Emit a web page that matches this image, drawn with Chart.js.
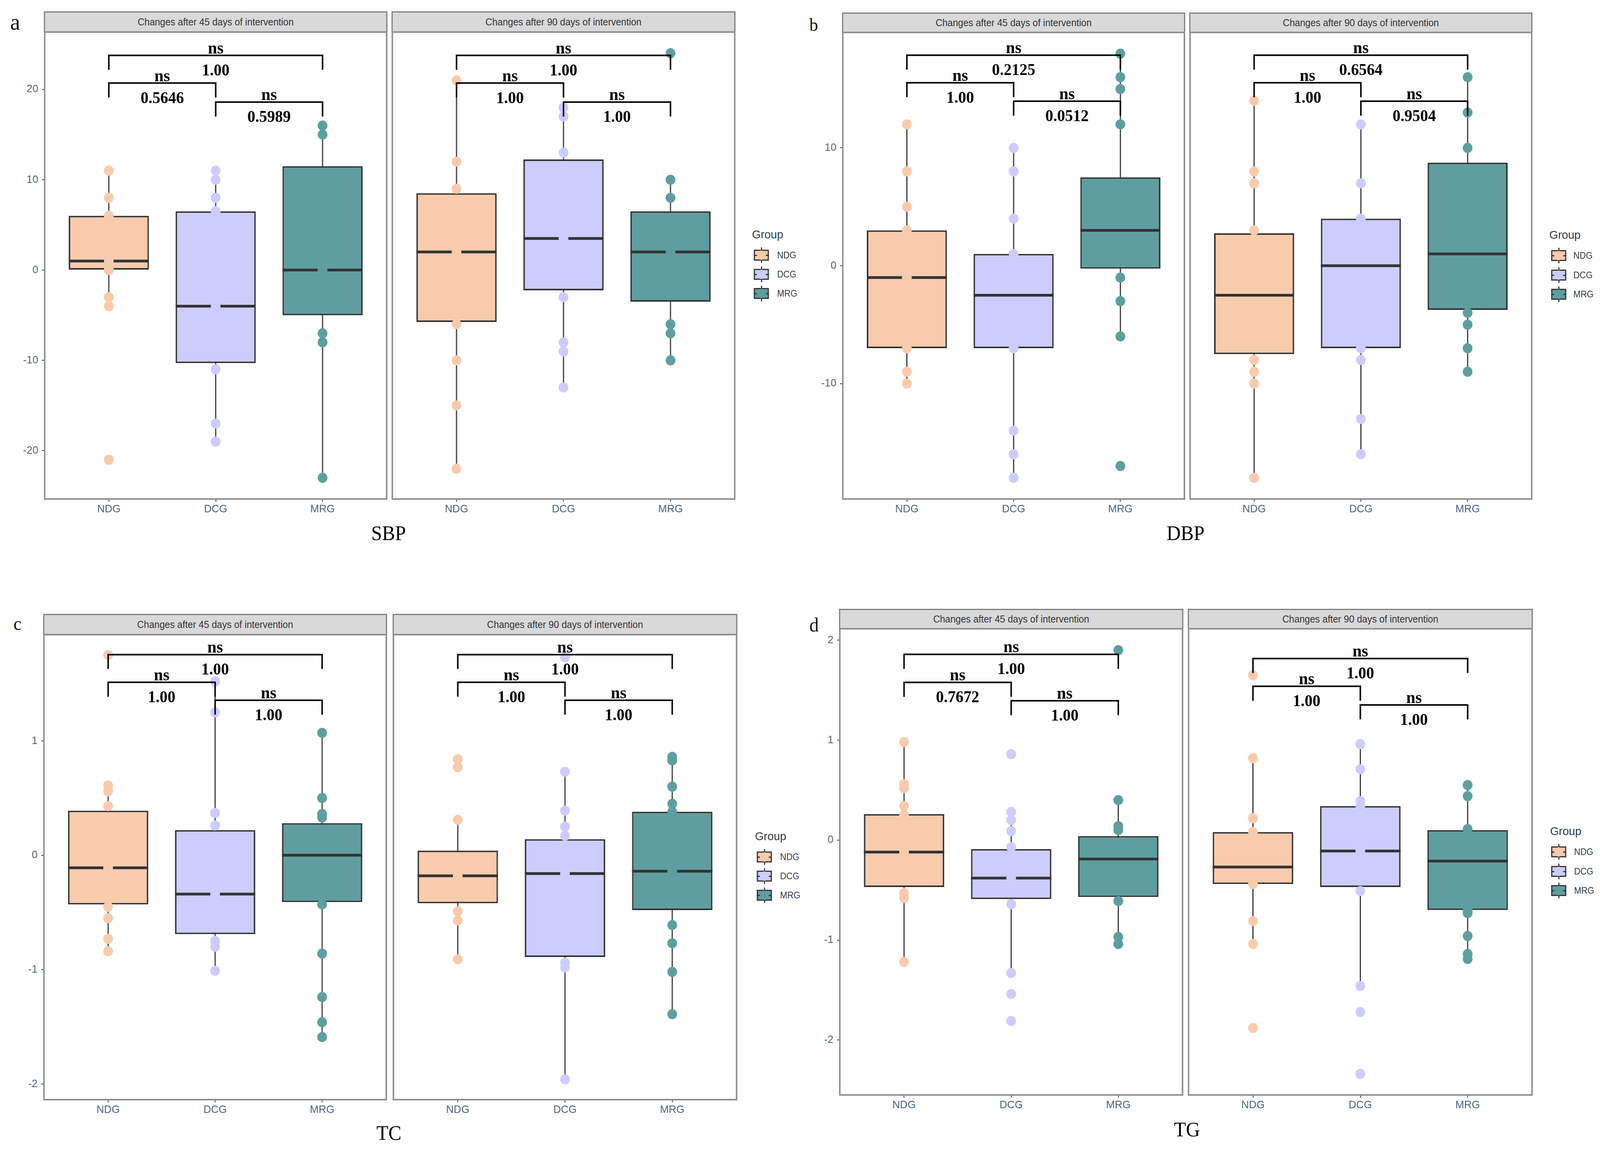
<!DOCTYPE html>
<html><head><meta charset="utf-8">
<script src="https://cdn.jsdelivr.net/npm/chart.js@4.4.1/dist/chart.umd.min.js"></script>
<style>
html,body{margin:0;padding:0;background:#fff;overflow:hidden;}
#root{position:absolute;left:0;top:0;width:4262px;height:2948px;overflow:hidden;background:#fff;transform-origin:0 0;}
.strip{position:absolute;box-sizing:border-box;background:#d9d9d9;border:3px solid #7d7d7d;font-family:"Liberation Sans",Arial,sans-serif;font-size:25px;color:#333;display:flex;align-items:center;justify-content:center;white-space:nowrap;}
.serif{position:absolute;font-family:"Liberation Serif","Times New Roman",serif;color:#111;line-height:1;white-space:nowrap;}
.sans{position:absolute;font-family:"Liberation Sans",Arial,sans-serif;line-height:1;white-space:nowrap;color:#2f3b4c;}
.key{position:absolute;width:40px;height:28px;}
.key div{position:absolute;}
</style></head><body><div id="root"></div>
<script>
// ---------- categories & styling ----------
const groups = ['NDG', 'DCG', 'MRG'];
const fillColors = ['#F8CBAD', '#CCCCFF', '#5F9EA0'];
const comparisons = [[1, 3], [1, 2], [2, 3]];
const facetLabels = ['Changes after 45 days of intervention', 'Changes after 90 days of intervention'];

// ---------- tick labels ----------
const sbpTicks = [-20, -10, 0, 10, 20];
const dbpTicks = [-10, 0, 10];
const tcTicks = [-2, -1, 0, 1];
const tgTicks = [-2, -1, 0, 1, 2];

// ---------- SBP ----------
const sbp45Points = [
  [11, 8, 6, 6, 3, 1, 0, 0, 0, -3, -4, -21],
  [11, 10, 8, 6.5, 2, -4, -7, -11, -17, -19],
  [16, 15, 5, 0, -2, -7, -8, -23]
];
const sbp45Box = [[-4, 0, 1, 6, 11], [-19, -10.3, -4, 6.5, 11], [-23, -5, 0, 11.5, 16]]; // [low, q1, median, q3, high]
const sbp45Brackets = [23.77, 20.7, 18.6];
const sbp45P = ['1.00', '0.5646', '0.5989'];

const sbp90Points = [
  [21, 12, 9, 5, 2, -2, -6, -10, -15, -22],
  [18, 17, 13, 8, 3.5, 0, -3, -8, -9, -13],
  [24, 10, 8, 4, 2, -1, -6, -7, -10]
];
const sbp90Box = [[-22, -5.75, 2, 8.5, 21], [-13, -2.25, 3.5, 12.25, 18], [-10, -3.5, 2, 6.5, 10]];
const sbp90Brackets = [23.77, 20.7, 18.6];
const sbp90P = ['1.00', '1.00', '1.00'];

// ---------- DBP ----------
const dbp45Points = [
  [12, 8, 5, 3, 1, -1, -4, -7, -9, -10],
  [10, 8, 4, 1, -1, -4, -7, -14, -16, -18],
  [18, 16, 15, 12, 6, 1, -1, -3, -6, -17]
];
const dbp45Box = [[-10, -7, -1, 3, 12], [-18, -7, -2.5, 1, 10], [-6, -0.25, 3, 7.5, 18]];
const dbp45Brackets = [17.87, 15.53, 13.96];
const dbp45P = ['0.2125', '1.00', '0.0512'];

const dbp90Points = [
  [14, 8, 7, 3, 0, -4, -8, -9, -10, -18],
  [12, 7, 4, 2, -3, -7, -8, -13, -16],
  [16, 13, 10, 5, -2, -4, -5, -7, -9]
];
const dbp90Box = [[-18, -7.5, -2.5, 2.75, 14], [-16, -7, 0, 4, 12], [-9, -3.75, 1, 8.75, 16]];
const dbp90Brackets = [17.87, 15.53, 13.96];
const dbp90P = ['0.6564', '1.00', '0.9504'];

// ---------- TC ----------
const tc45Points = [
  [1.75, 0.61, 0.56, 0.43, 0.1, -0.11, -0.3, -0.45, -0.55, -0.73, -0.84],
  [1.52, 1.25, 0.37, 0.26, 0, -0.34, -0.5, -0.75, -0.80, -1.01],
  [1.07, 0.50, 0.36, 0.33, 0.1, -0.2, -0.43, -0.86, -1.24, -1.46, -1.59]
];
const tc45Box = [[-0.84, -0.43, -0.11, 0.39, 0.61], [-1.01, -0.69, -0.34, 0.22, 1.52], [-1.59, -0.41, 0.0, 0.28, 1.07]];
const tc45Brackets = [1.754, 1.512, 1.355];
const tc45P = ['1.00', '1.00', '1.00'];

const tc90Points = [
  [0.84, 0.77, 0.31, -0.05, -0.18, -0.3, -0.49, -0.57, -0.91],
  [1.73, 0.73, 0.39, 0.25, 0.17, -0.16, -0.5, -0.94, -0.98, -1.96],
  [0.86, 0.83, 0.60, 0.45, 0.38, -0.14, -0.3, -0.61, -0.77, -1.02, -1.39]
];
const tc90Box = [[-0.91, -0.42, -0.18, 0.04, 0.31], [-1.96, -0.89, -0.16, 0.14, 0.73], [-1.39, -0.48, -0.14, 0.38, 0.86]];
const tc90Brackets = [1.754, 1.512, 1.355];
const tc90P = ['1.00', '1.00', '1.00'];

// ---------- TG ----------
const tg45Points = [
  [0.98, 0.56, 0.52, 0.34, 0.25, -0.12, -0.3, -0.53, -0.58, -1.22],
  [0.86, 0.28, 0.20, 0.09, -0.07, -0.38, -0.5, -0.64, -1.33, -1.54, -1.81],
  [1.90, 0.40, 0.14, 0.10, -0.1, -0.4, -0.61, -0.97, -1.04]
];
const tg45Box = [[-1.22, -0.47, -0.12, 0.26, 0.98], [-1.33, -0.59, -0.38, -0.09, 0.28], [-1.04, -0.57, -0.19, 0.04, 0.40]];
const tg45Brackets = [1.858, 1.577, 1.394];
const tg45P = ['1.00', '0.7672', '1.00'];

const tg90Points = [
  [1.65, 0.82, 0.22, 0.08, -0.1, -0.44, -0.81, -1.04, -1.88],
  [0.96, 0.71, 0.39, 0.34, 0.1, -0.11, -0.3, -0.51, -1.46, -1.72, -2.34],
  [0.55, 0.44, 0.11, -0.1, -0.4, -0.70, -0.73, -0.96, -1.14, -1.19]
];
const tg90Box = [[-1.04, -0.44, -0.27, 0.08, 0.82], [-1.46, -0.47, -0.11, 0.34, 0.96], [-1.19, -0.70, -0.21, 0.10, 0.55]];
const tg90Brackets = [1.816, 1.538, 1.352];
const tg90P = ['1.00', '1.00', '1.00'];

// ---------- layout (page pixels) ----------
const panels = [
  { letter: 'a', letterX: 27, letterBase: 76, letterSize: 60, title: 'SBP', titleX: 1035, titleBase: 1383,
    stripTop: 29, plotTop: 82, plotBottom: 1277, facetX: [[119, 1030], [1045, 1957]],
    yMin: -25.35, yMax: 26.35, ticks: sbpTicks,
    facets: [{ points: sbp45Points, box: sbp45Box, brackets: sbp45Brackets, p: sbp45P },
             { points: sbp90Points, box: sbp90Box, brackets: sbp90Brackets, p: sbp90P }],
    legend: { titleX: 2003, titleBase: 610, keyX: 2008, keysY: [653, 702, 751], labelX: 2070 } },
  { letter: 'b', letterX: 2156, letterBase: 80, letterSize: 46, title: 'DBP', titleX: 3158, titleBase: 1383,
    stripTop: 32, plotTop: 83, plotBottom: 1277, facetX: [[2245, 3155], [3170, 4080]],
    yMin: -19.8, yMax: 19.8, ticks: dbpTicks,
    facets: [{ points: dbp45Points, box: dbp45Box, brackets: dbp45Brackets, p: dbp45P },
             { points: dbp90Points, box: dbp90Box, brackets: dbp90Brackets, p: dbp90P }],
    legend: { titleX: 4127, titleBase: 611, keyX: 4132, keysY: [654, 704, 753], labelX: 4191 } },
  { letter: 'c', letterX: 36, letterBase: 1612, letterSize: 48, title: 'TC', titleX: 1036, titleBase: 2918,
    stripTop: 1571, plotTop: 1624, plotBottom: 2814, facetX: [[117, 1029], [1048, 1962]],
    yMin: -2.137, yMax: 1.929, ticks: tcTicks,
    facets: [{ points: tc45Points, box: tc45Box, brackets: tc45Brackets, p: tc45P },
             { points: tc90Points, box: tc90Box, brackets: tc90Brackets, p: tc90P }],
    legend: { titleX: 2011, titleBase: 2150, keyX: 2016, keysY: [2193, 2242, 2291], labelX: 2078 } },
  { letter: 'd', letterX: 2156, letterBase: 1616, letterSize: 50, title: 'TG', titleX: 3162, titleBase: 2909,
    stripTop: 1558, plotTop: 1609, plotBottom: 2802, facetX: [[2237, 3150], [3166, 4081]],
    yMin: -2.55, yMax: 2.114, ticks: tgTicks,
    facets: [{ points: tg45Points, box: tg45Box, brackets: tg45Brackets, p: tg45P },
             { points: tg90Points, box: tg90Box, brackets: tg90Brackets, p: tg90P }],
    legend: { titleX: 4129, titleBase: 2137, keyX: 4132, keysY: [2180, 2230, 2279], labelX: 4193 } }
];

const root = document.getElementById('root');
// fit the 4262x2948 composition into whatever viewport the browser actually gives
(function fitRoot() {
  const vw = document.documentElement.clientWidth || window.innerWidth;
  const vh = document.documentElement.clientHeight || window.innerHeight;
  const sx = vw / 4262, sy = vh / 2948;
  if (Math.abs(sx - 1) > 0.002 || Math.abs(sy - 1) > 0.002) {
    root.style.transform = `scale(${sx}, ${sy})`;
  }
})();

function el(cls, css, text) {
  const d = document.createElement('div');
  if (cls) d.className = cls;
  d.style.cssText = css;
  if (text !== undefined) d.textContent = text;
  root.appendChild(d);
  return d;
}

const TICK_COLOR = '#46607f';
const annotPlugin = {
  id: 'annot',
  afterDatasetsDraw(chart, args, opts) {
    const { ctx, scales: { x, y } } = chart;
    ctx.save();
    ctx.fillStyle = '#000';
    ctx.textAlign = 'center';
    ctx.textBaseline = 'alphabetic';
    comparisons.forEach((c, k) => {
      const yl = y.getPixelForValue(opts.levels[k]);
      const xc = (x.getPixelForValue(c[0]) + x.getPixelForValue(c[1])) / 2;
      ctx.font = 'bold 44px "Liberation Serif", "Times New Roman", serif';
      ctx.fillText('ns', xc, yl - 5);
      ctx.font = 'bold 42px "Liberation Serif", "Times New Roman", serif';
      ctx.fillText(opts.p[k], xc, yl + 51);
    });
    ctx.restore();
  },
  afterDraw(chart) {
    const { ctx, chartArea: a } = chart;
    ctx.save();
    ctx.strokeStyle = '#8e8e8e';
    ctx.lineWidth = 4;
    ctx.strokeRect(a.left, a.top, a.right - a.left, a.bottom - a.top);
    ctx.restore();
  }
};

function buildFacet(panel, fi) {
  const f = panel.facets[fi];
  const [x0, x1] = panel.facetX[fi];
  const isLeft = fi === 0;
  const P = 4, YW = 110, XH = 55;
  const plotW = x1 - x0, plotH = panel.plotBottom - panel.plotTop;
  const padL = isLeft ? 0 : P;
  const offL = isLeft ? YW : P;
  const cw = plotW + offL + P;
  const ch = plotH + P + XH;

  // strip header
  el('strip', `left:${x0 - 2}px;top:${panel.stripTop}px;width:${plotW + 4}px;height:${panel.plotTop - panel.stripTop + 1}px;`, facetLabels[fi]);

  const canvas = document.createElement('canvas');
  canvas.width = cw; canvas.height = ch;
  canvas.style.cssText = `position:absolute;left:${x0 - offL}px;top:${panel.plotTop - P}px;width:${cw}px;height:${ch}px;`;
  root.appendChild(canvas);

  const tip = 0.031 * (panel.yMax - panel.yMin);
  const datasets = [];
  // whiskers
  f.box.forEach((b, i) => datasets.push({
    type: 'line', data: [{ x: i + 1, y: b[0] }, { x: i + 1, y: b[4] }],
    borderColor: '#333333', borderWidth: 3, pointRadius: 0, fill: false, order: 5
  }));
  // boxes (q1 - q3)
  datasets.push({
    type: 'bar', data: f.box.map((b, i) => ({ x: i + 1, y: [b[1], b[3]] })),
    backgroundColor: fillColors, borderColor: '#333333', borderWidth: 4, borderSkipped: false,
    barPercentage: 0.75, categoryPercentage: 1, order: 4
  });
  // medians
  f.box.forEach((b, i) => datasets.push({
    type: 'line', data: [{ x: i + 1 - 0.375, y: b[2] }, { x: i + 1 + 0.375, y: b[2] }],
    borderColor: '#333333', borderWidth: 7, pointRadius: 0, fill: false, order: 3
  }));
  // points
  f.points.forEach((vals, i) => datasets.push({
    type: 'scatter', data: vals.map(v => ({ x: i + 1, y: v })),
    pointRadius: 13, pointHoverRadius: 13, pointBorderWidth: 0, pointBackgroundColor: fillColors[i],
    backgroundColor: fillColors[i], borderColor: fillColors[i], order: 2
  }));
  // significance brackets
  comparisons.forEach((c, k) => {
    const yv = f.brackets[k];
    datasets.push({
      type: 'line',
      data: [{ x: c[0], y: yv - tip }, { x: c[0], y: yv }, { x: c[1], y: yv }, { x: c[1], y: yv - tip }],
      borderColor: '#000', borderWidth: 4, pointRadius: 0, fill: false, order: 1, clip: false
    });
  });

  new Chart(canvas, {
    type: 'bar',
    data: { datasets },
    options: {
      responsive: false, animation: false, devicePixelRatio: 1, events: [],
      layout: { autoPadding: false, padding: { left: padL, top: P, right: P, bottom: 0 } },
      plugins: { legend: { display: false }, tooltip: { enabled: false },
                 annot: { levels: f.brackets, p: f.p } },
      scales: {
        x: {
          type: 'linear', min: 0.4, max: 3.6, offset: false,
          afterBuildTicks: s => { s.ticks = groups.map((g, i) => ({ value: i + 1 })); },
          afterFit: s => { s.height = XH; s.paddingLeft = 0; s.paddingRight = 0; s.paddingTop = 0; s.paddingBottom = 0; },
          ticks: { callback: v => groups[Math.round(v) - 1], color: TICK_COLOR, padding: 2, maxRotation: 0, autoSkip: false,
                   font: { family: '"Liberation Sans", Arial, sans-serif', size: 28 } },
          grid: { drawOnChartArea: false, drawTicks: true, tickLength: 7, tickColor: '#333', lineWidth: 2, offset: false },
          border: { display: false }
        },
        y: {
          type: 'linear', display: isLeft, min: panel.yMin, max: panel.yMax,
          afterBuildTicks: s => { s.ticks = panel.ticks.map(v => ({ value: v })); },
          afterFit: s => { s.width = isLeft ? YW : 0; s.paddingTop = 0; s.paddingBottom = 0; s.paddingLeft = 0; s.paddingRight = 0; },
          ticks: { color: TICK_COLOR, padding: 10,
                   font: { family: '"Liberation Sans", Arial, sans-serif', size: 28 } },
          grid: { drawOnChartArea: false, drawTicks: true, tickLength: 7, tickColor: '#333', lineWidth: 2 },
          border: { display: false }
        }
      }
    },
    plugins: [annotPlugin]
  });
}

function buildLegend(lg) {
  el('sans', `left:${lg.titleX}px;top:${lg.titleBase - 25.4}px;font-size:30px;`, 'Group');
  groups.forEach((g, i) => {
    const cy = lg.keysY[i];
    const k = el('key', `left:${lg.keyX}px;top:${cy - 14}px;`);
    const parts = [
      `left:18.5px;top:-6px;width:3px;height:6px;background:#333;`,
      `left:18.5px;top:28px;width:3px;height:6px;background:#333;`,
      `left:0;top:0;width:40px;height:28px;box-sizing:border-box;border:3px solid #333;background:${fillColors[i]};`,
      `left:0;top:12.5px;width:40px;height:3px;background:#333;`,
      `left:8px;top:2px;width:24px;height:24px;border-radius:50%;background:${fillColors[i]};`
    ];
    parts.forEach(css => { const d = document.createElement('div'); d.style.cssText = css; k.appendChild(d); });
    el('sans', `left:${lg.labelX}px;top:${cy - 11.3}px;font-size:23px;`, g);
  });
}

panels.forEach(panel => {
  el('serif', `left:${panel.letterX}px;top:${panel.letterBase - 0.8375 * panel.letterSize}px;font-size:${panel.letterSize}px;`, panel.letter);
  el('serif', `left:${panel.titleX - 200}px;width:400px;text-align:center;top:${panel.titleBase - 0.8375 * 52}px;font-size:52px;color:#000;`, panel.title);
  buildFacet(panel, 0);
  buildFacet(panel, 1);
  buildLegend(panel.legend);
});
</script></body></html>
